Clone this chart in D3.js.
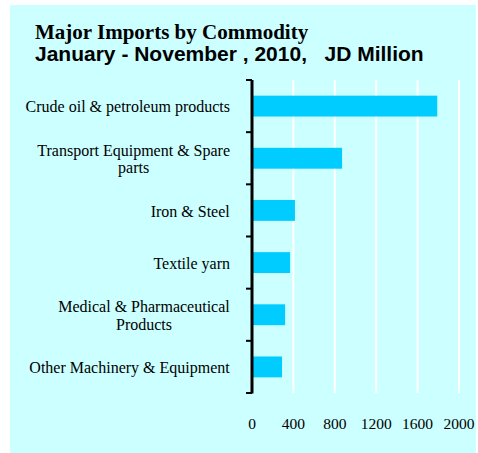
<!DOCTYPE html>
<html>
<head>
<meta charset="utf-8">
<script src="https://cdn.jsdelivr.net/npm/d3@7/dist/d3.min.js"></script>
<style>
  html, body { margin: 0; padding: 0; background: #ffffff; }
  svg { display: block; }
</style>
</head>
<body>
<svg id="chart" width="478" height="453"></svg>
<script>
const categories = [
  ["Crude oil & petroleum products"],
  ["Transport Equipment & Spare", "parts"],
  ["Iron & Steel"],
  ["Textile yarn"],
  ["Medical & Pharmaceutical", "Products"],
  ["Other Machinery & Equipment"]
];
const values = [1790, 870, 415, 368, 320, 290];
const tickValues = [0, 400, 800, 1200, 1600, 2000];
const titleLine1 = "Major Imports by Commodity";
const titleLine2 = "January - November , 2010,   JD Million";

const svg = d3.select("#chart");

svg.append("rect")
  .attr("x", 10).attr("y", 5).attr("width", 466).attr("height", 448)
  .attr("fill", "#ccffff");

svg.append("text")
  .attr("x", 35).attr("y", 39)
  .attr("font-family", "'Liberation Serif', 'Times New Roman', serif")
  .attr("font-weight", "bold").attr("font-size", 21)
  .attr("fill", "#000")
  .text(titleLine1);

svg.append("text")
  .attr("x", 35).attr("y", 60.5)
  .attr("font-family", "'Liberation Sans', Arial, sans-serif")
  .attr("font-weight", "bold").attr("font-size", 21)
  .attr("fill", "#000")
  .style("white-space", "pre")
  .text(titleLine2);

const x = d3.scaleLinear().domain([0, 2000]).range([252, 459]);
const idx = d3.range(categories.length);
const y = d3.scaleBand().domain(idx).range([80, 393]).paddingInner(0).paddingOuter(0);

// gridlines
svg.append("g").selectAll("line")
  .data(tickValues.filter(d => d > 0))
  .join("line")
  .attr("x1", d => x(d)).attr("x2", d => x(d))
  .attr("y1", 80).attr("y2", 393)
  .attr("stroke", "#ffffff").attr("stroke-width", 2);

// bars
const barH = y.bandwidth() * 0.4;
svg.append("g").selectAll("rect")
  .data(values)
  .join("rect")
  .attr("x", x(0))
  .attr("y", (d, i) => y(i) + (y.bandwidth() - barH) / 2)
  .attr("width", d => x(d) - x(0))
  .attr("height", barH)
  .attr("fill", "#00ccff");

// y axis line & ticks at band boundaries
const bounds = idx.map(i => y(i)).concat([y(idx.length - 1) + y.bandwidth()]);
svg.append("line")
  .attr("x1", x(0)).attr("x2", x(0))
  .attr("y1", 80).attr("y2", 393.5)
  .attr("stroke", "#000").attr("stroke-width", 3);
svg.append("g").selectAll("line")
  .data(bounds)
  .join("line")
  .attr("x1", x(0) - 6).attr("x2", x(0))
  .attr("y1", d => d).attr("y2", d => d)
  .attr("stroke", "#000").attr("stroke-width", 2);

// category labels
const labelFont = "'Liberation Serif', 'Times New Roman', serif";
const lh = 17.5;
const lbl = svg.append("g");
categories.forEach((lines, i) => {
  const cy = y(i) + y.bandwidth() / 2;
  const t = lbl.append("text")
    .attr("text-anchor", "middle")
    .attr("font-family", labelFont).attr("font-size", 16)
    .attr("fill", "#000");
  const n = lines.length;
  lines.forEach((ln, k) => {
    t.append("tspan")
      .attr("x", 0)
      .attr("y", cy + 6.4 + (k - (n - 1) / 2) * lh)
      .text(ln);
  });
  const w = t.node().getBBox().width;
  t.attr("transform", `translate(${230 - w / 2},0)`);
});

// x tick labels
svg.append("g").selectAll("text")
  .data(tickValues)
  .join("text")
  .attr("x", d => x(d))
  .attr("y", 429)
  .attr("text-anchor", "middle")
  .attr("font-family", labelFont).attr("font-size", 15.5)
  .attr("fill", "#000")
  .text(d => d);
</script>
</body>
</html>
